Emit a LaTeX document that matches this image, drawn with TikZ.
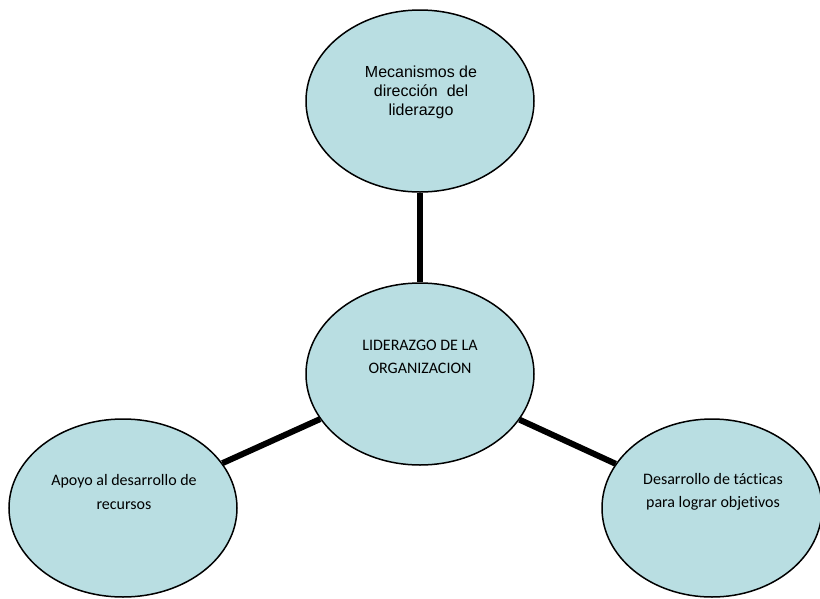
\documentclass[tikz,border=0pt]{standalone}
\usepackage{fontspec}
\setmainfont[Ligatures=NoCommon]{Carlito}
\newfontfamily\arialfont{Liberation Sans}
\usetikzlibrary{shapes.geometric}
\definecolor{bubblefill}{RGB}{185,222,226}
\begin{document}
\begin{tikzpicture}[x=1pt,y=-1pt,
  bubble/.style={ellipse, draw=black, line width=1.5pt, fill=bubblefill,
    minimum width=228pt, minimum height=180pt, inner sep=0pt},
  link/.style={line width=6pt, black},
  caption/.style={align=center, inner sep=0pt, font=\fontsize{16}{23.5}\selectfont},
  captionarial/.style={align=center, inner sep=0pt, font=\arialfont\fontsize{16}{19}\selectfont}]
\useasboundingbox (0,0) rectangle (820,598);

% the four bubbles
\node[bubble, minimum height=182pt] (mec) at (420,101) {};
\node[bubble, minimum height=182pt] (lid) at (420,374) {};
\node[bubble, minimum height=178pt] (apo) at (123,508) {};
\node[bubble, minimum width=220pt, minimum height=178pt] (des) at (712,508) {};

% thick links between the central bubble and the others
\draw[link] (mec) -- (lid);
\draw[link] (lid) -- (apo);
\draw[link] (lid) -- (des);

% captions
\node[captionarial] (mectext) at (421,92) {Mecanismos de\\direcci\'on \ del\\liderazgo};
\node[caption] (lidtext) at (420,357) {LIDERAZGO DE LA\\ORGANIZACION};
\node[caption] (apotext) at (124,492) {Apoyo al desarrollo de\\recursos};
\node[caption] (destext) at (713,492) {Desarrollo de t\'acticas\\para lograr objetivos};
\end{tikzpicture}
\end{document}
